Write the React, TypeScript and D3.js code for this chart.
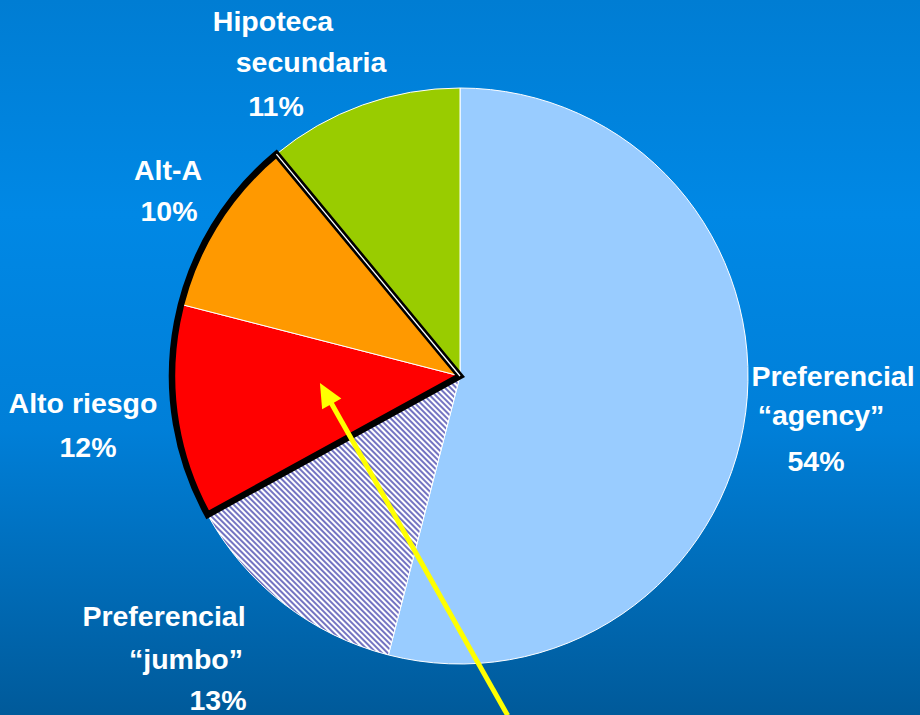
import React, { useMemo } from "react";
import * as d3 from "d3";

// ---- Data ----
const categories = [
  "Preferencial “agency”",
  "Preferencial “jumbo”",
  "Alto riesgo",
  "Alt-A",
  "Hipoteca secundaria",
];
const shares = [54, 13, 12, 10, 11];
const labelLines = [
  ["Preferencial", "“agency”", "54%"],
  ["Preferencial", "“jumbo”", "13%"],
  ["Alto riesgo", "12%"],
  ["Alt-A", "10%"],
  ["Hipoteca", "secundaria", "11%"],
];
const highlighted = ["Alto riesgo", "Alt-A"];
const arrowTarget = "Alto riesgo";

// ---- Layout ----
const W = 920;
const H = 715;
const CX = 460;
const CY = 376;
const R = 288;
const FONT = 28.5;
// per-line label anchors (center x, baseline y)
const labelLayout: [number, number][][] = [
  [[833, 386], [821, 425], [816, 471]],
  [[164, 626], [186, 669], [218, 710]],
  [[83, 413], [88, 457]],
  [[168, 180], [169, 221]],
  [[273, 31], [311, 72], [276, 116]],
];
const fills = ["#99CCFF", "url(#hatch)", "#FF0000", "#FF9900", "#99CC00"];

export default function App() {
  if (typeof document !== "undefined") document.body.style.margin = "0";

  const arcs = useMemo(
    () =>
      d3
        .pie<number>()
        .sort(null)
        .value((d) => d)
        .startAngle(0)
        .endAngle(2 * Math.PI)(shares),
    []
  );
  const arcGen = d3.arc<d3.PieArcDatum<number>>().innerRadius(0).outerRadius(R);

  // highlight outline for combined slices
  const hi = arcs.filter((_, i) => highlighted.includes(categories[i]));
  const hiStart = d3.min(hi, (a) => a.startAngle)!;
  const hiEnd = d3.max(hi, (a) => a.endAngle)!;
  const hiPath = d3.arc()({
    innerRadius: 0,
    outerRadius: R,
    startAngle: hiStart,
    endAngle: hiEnd,
  } as any)!;

  const pol = (ang: number, r: number): [number, number] => [
    CX + r * Math.sin(ang),
    CY - r * Math.cos(ang),
  ];
  const hiEndPt = pol(hiEnd, R);

  // arrow: from below the pie into the target slice
  const ti = categories.indexOf(arrowTarget);
  const ta = arcs[ti];
  const tipAng = ta.startAngle + (ta.endAngle - ta.startAngle) * 0.6;
  const tip = pol(tipAng, R * 0.487);
  const tail = pol((172 * Math.PI) / 180, R * 1.19);
  const dx = tip[0] - tail[0];
  const dy = tip[1] - tail[1];
  const len = Math.hypot(dx, dy);
  const ux = dx / len;
  const uy = dy / len;
  const headLen = 24;
  const headW = 11;
  const base: [number, number] = [tip[0] - ux * headLen, tip[1] - uy * headLen];
  const headPts = [
    tip,
    [base[0] - uy * headW, base[1] + ux * headW],
    [base[0] + uy * headW, base[1] - ux * headW],
  ];

  return (
    <svg width={W} height={H} style={{ display: "block" }}>
      <defs>
        <linearGradient id="bg" x1="0" y1="0" x2="0" y2="1">
          <stop offset="0" stopColor="#007DD3" />
          <stop offset="0.3" stopColor="#0088E5" />
          <stop offset="0.6" stopColor="#007FD8" />
          <stop offset="1" stopColor="#005A9A" />
        </linearGradient>
        <pattern
          id="hatch"
          patternUnits="userSpaceOnUse"
          width="4"
          height="4"
          patternTransform="rotate(-45)"
        >
          <rect width="4" height="4" fill="#FFFFFF" />
          <rect width="2" height="4" fill="#7474C2" />
        </pattern>
      </defs>
      <rect width={W} height={H} fill="url(#bg)" />
      <g transform={`translate(${CX},${CY})`}>
        {arcs.map((a, i) => (
          <path
            key={categories[i]}
            d={arcGen(a)!}
            fill={fills[i]}
            stroke="#FFFFFF"
            strokeWidth={1}
          />
        ))}
        <path
          d={hiPath}
          fill="none"
          stroke="#000000"
          strokeWidth={6.5}
          strokeLinejoin="miter"
        />
        <line
          x1={0}
          y1={0}
          x2={hiEndPt[0] - CX}
          y2={hiEndPt[1] - CY}
          stroke="#FFFFFF"
          strokeWidth={1.3}
        />
      </g>
      <line
        x1={tail[0]}
        y1={tail[1]}
        x2={base[0] + ux * 2}
        y2={base[1] + uy * 2}
        stroke="#FFFF00"
        strokeWidth={5}
      />
      <polygon points={headPts.map((p) => p.join(",")).join(" ")} fill="#FFFF00" />
      <g
        fontFamily="'Liberation Sans', Arial, sans-serif"
        fontWeight="bold"
        fontSize={FONT}
        fill="#FFFFFF"
        textAnchor="middle"
      >
        {labelLines.map((lines, i) =>
          lines.map((t, j) => (
            <text key={`${i}-${j}`} x={labelLayout[i][j][0]} y={labelLayout[i][j][1]}>
              {t}
            </text>
          ))
        )}
      </g>
    </svg>
  );
}
